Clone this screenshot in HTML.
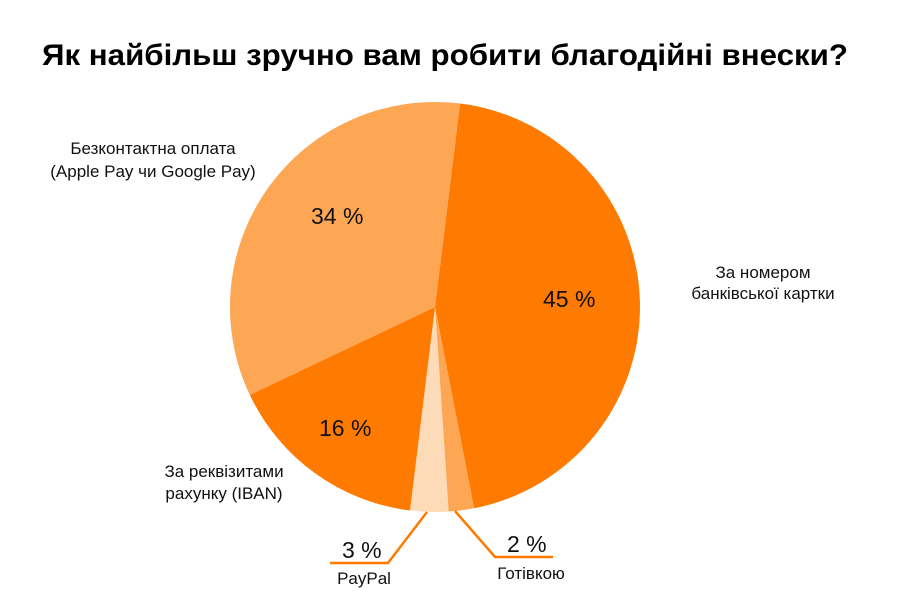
<!DOCTYPE html>
<html><head><meta charset="utf-8"><style>
body{margin:0;background:#fff;width:915px;height:606px;overflow:hidden}
svg{display:block}
text{font-family:"Liberation Sans",sans-serif;fill:#111}
</style></head><body>
<svg width="915" height="606" viewBox="0 0 915 606">
<text x="42" y="65" font-size="30" font-weight="bold" textLength="806" lengthAdjust="spacingAndGlyphs" style="fill:#000">Як найбільш зручно вам робити благодійні внески?</text>
<path d="M435,307 L460.0,103.5 A205,205 0 0 1 474.1,508.2 Z" fill="#FF7A00"/>
<path d="M435,307 L474.1,508.2 A205,205 0 0 1 448.6,511.5 Z" fill="#FDA654"/>
<path d="M435,307 L448.6,511.5 A205,205 0 0 1 410.0,510.5 Z" fill="#FDDBB9"/>
<path d="M435,307 L410.0,510.5 A205,205 0 0 1 249.8,394.9 Z" fill="#FF7A00"/>
<path d="M435,307 L249.8,394.9 A205,205 0 0 1 460.0,103.5 Z" fill="#FDA654"/>
<g font-size="23">
<text x="543" y="307">45 %</text>
<text x="311" y="224">34 %</text>
<text x="319" y="436">16 %</text>
<text x="342" y="558">3 %</text>
<text x="507" y="552">2 %</text>
</g>
<polyline points="427,512 388,563 330,563" fill="none" stroke="#FF7A00" stroke-width="2.5"/>
<polyline points="455,511 495,557 553,557" fill="none" stroke="#FF7A00" stroke-width="2.5"/>
<g font-size="17" text-anchor="middle">
<text x="153" y="154">Безконтактна оплата</text>
<text x="153" y="177">(Apple Pay чи Google Pay)</text>
<text x="763" y="278">За номером</text>
<text x="763" y="299">банківської картки</text>
<text x="224" y="477">За реквізитами</text>
<text x="224" y="499">рахунку (IBAN)</text>
<text x="364" y="584">PayPal</text>
<text x="531" y="579">Готівкою</text>
</g>
</svg>
</body></html>
